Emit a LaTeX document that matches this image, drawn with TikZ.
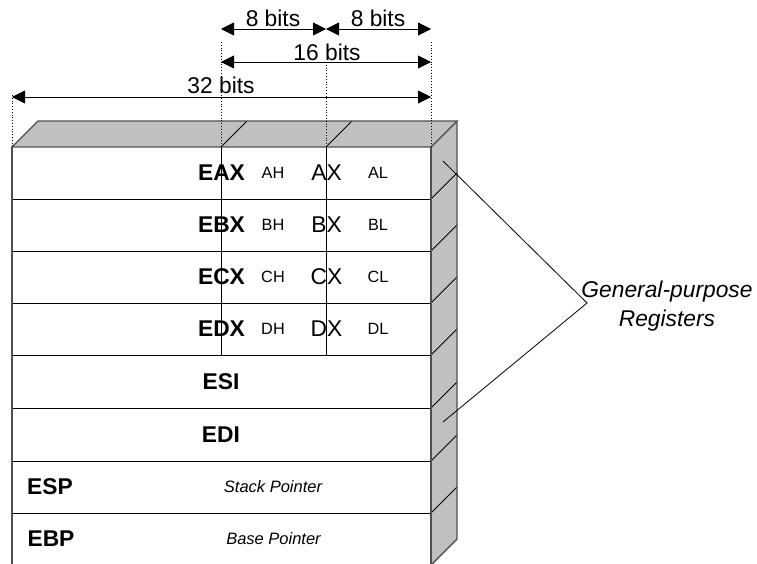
\documentclass[tikz,border=0pt]{standalone}
\usepackage{fontspec}
\setmainfont{Liberation Sans}
\usetikzlibrary{arrows.meta}
\definecolor{facegray}{RGB}{192,192,192}
\definecolor{edgegray}{RGB}{80,80,80}
\begin{document}
\begin{tikzpicture}[x=1pt,y=-1pt,
  outline/.style={draw=edgegray, line width=1.4pt, line join=miter},
  rowline/.style={draw=black, line width=0.9pt},
  bigtxt/.style={font=\fontsize{22.8}{27}\selectfont, inner sep=0pt},
  bigbold/.style={font=\fontsize{22.8}{27}\selectfont\bfseries, inner sep=0pt},
  smalltxt/.style={font=\fontsize{16.3}{19}\selectfont, inner sep=0pt},
  smallit/.style={font=\fontsize{16.5}{19}\selectfont\itshape, inner sep=0pt},
  bigit/.style={font=\fontsize{22.8}{27}\selectfont\itshape, inner sep=0pt},
  dimarrow/.style={{Triangle[length=13pt,width=13pt]}-{Triangle[length=13pt,width=13pt]}, line width=0.9pt},
  guide/.style={dotted, line width=0.8pt},
  bracket/.style={draw=black, line width=0.8pt},
]
\useasboundingbox (0,0) rectangle (757,563);

% faces
\fill[facegray] (12,147) -- (38,121) -- (457,121) -- (431,147) -- cycle;
\fill[facegray] (431,147) -- (457,121) -- (457,539) -- (431,565) -- cycle;
\fill[white] (12,147) rectangle (431,565);

% row separators
\foreach \y in {199,251,303,355,408,461,513} {
  \draw[rowline] (12,\y) -- (431,\y);
  \draw[rowline] (431,\y) -- (457,\y-26);
}
% byte columns
\draw[rowline] (221,147) -- (221,355);
\draw[rowline] (326,147) -- (326,355);
\draw[rowline] (221,147) -- (247,121);
\draw[rowline] (326,147) -- (352,121);

% outlines
\draw[outline] (12,147) -- (38,121) -- (457,121) -- (431,147) -- cycle;
\draw[outline] (457,121) -- (457,539) -- (431,565);
\draw[outline] (431,147) -- (431,565);
\draw[draw=edgegray, line width=1.1pt] (12,147) -- (12,565);

% guides
\coordinate (a8L) at (221,29);
\coordinate (a8M) at (326,29);
\coordinate (a8R) at (431,29);
\coordinate (a16L) at (221,62);
\coordinate (a16R) at (431,62);
\coordinate (a32L) at (12,97);
\coordinate (a32R) at (431,97);
\coordinate (g0) at (12,147);
\coordinate (g1) at (221,147);
\coordinate (g2) at (326,147);
\coordinate (g3) at (431,147);
\draw[guide] (12,95) -- (g0);
\draw[guide] (221,42) -- (g1);
\draw[guide] (326,62) -- (g2);
\draw[guide] (431,42) -- (g3);

% dimension arrows
\draw[dimarrow] (a8L) -- (a8M);
\draw[dimarrow] (a8M) -- (a8R);
\draw[dimarrow] (a16L) -- (a16R);
\draw[dimarrow] (a32L) -- (a32R);

\node[bigtxt] (t8a) at (273,18) {8 bits};
\node[bigtxt] (t8b) at (378,18) {8 bits};
\node[bigtxt] (t16) at (327,52) {16 bits};
\node[bigtxt] (t32) at (221,85) {32 bits};

% register labels
\node[bigbold] (eax) at (221.5,173) {EAX};
\node[smalltxt] (ah) at (273,173) {AH};
\node[bigtxt] (ax) at (326.5,173) {AX};
\node[smalltxt] (al) at (378,173) {AL};

\node[bigbold] (ebx) at (221.5,225) {EBX};
\node[smalltxt] (bh) at (273,225) {BH};
\node[bigtxt] (bx) at (326.5,225) {BX};
\node[smalltxt] (bl) at (378,225) {BL};

\node[bigbold] (ecx) at (221.5,277) {ECX};
\node[smalltxt] (ch) at (273,277) {CH};
\node[bigtxt] (cx) at (326.5,277) {CX};
\node[smalltxt] (cl) at (378,277) {CL};

\node[bigbold] (edx) at (221.5,329) {EDX};
\node[smalltxt] (dh) at (273,329) {DH};
\node[bigtxt] (dx) at (326.5,329) {DX};
\node[smalltxt] (dl) at (378,329) {DL};

\node[bigbold] (esi) at (221,382) {ESI};
\node[bigbold] (edi) at (221,435) {EDI};
\node[bigbold] (esp) at (50,487) {ESP};
\node[smallit] (spt) at (273,487) {Stack Pointer};
\node[bigbold] (ebp) at (51,539) {EBP};
\node[smallit] (bpt) at (273.5,539) {Base Pointer};

% general-purpose bracket
\node[bigit, anchor=base] (gp1) at (667,297) {General-purpose};
\node[bigit, anchor=base] (gp2) at (667,326) {Registers};
\coordinate (apex) at (587,303);
\coordinate (b1) at (443,161);
\coordinate (b2) at (443,422);
\draw[bracket] (b1) -- (apex) -- (b2);
\end{tikzpicture}
\end{document}
